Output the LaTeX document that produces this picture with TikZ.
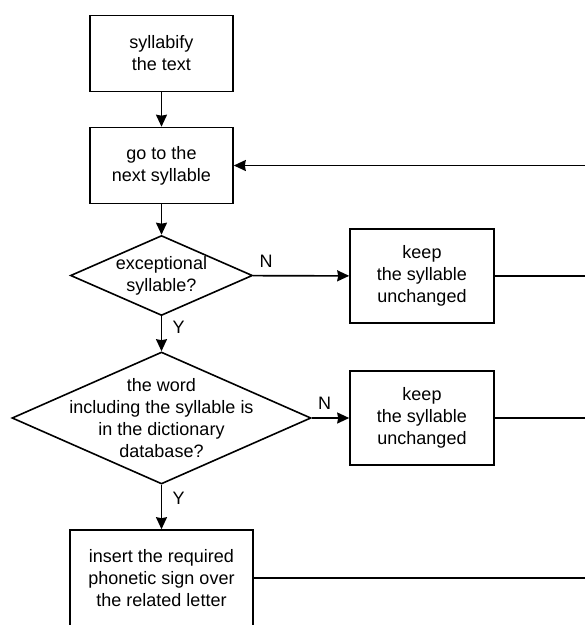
\documentclass[tikz,border=0pt]{standalone}
\usepackage{fontspec}
\setmainfont{Liberation Sans}
\usetikzlibrary{positioning, shapes.geometric, arrows.meta}

\begin{document}
\begin{tikzpicture}[
    x=1pt, y=-1pt,
    font=\fontsize{18}{22}\selectfont,
    % Style for the rectangular steps
    box/.style = {draw, line width=1.6pt, minimum width=143pt, minimum height=76pt, align=center, inner sep=0pt},
    % Style for the questions (text is put in as a centre label)
    decision/.style = {draw, diamond, line width=1.6pt, inner sep=0pt},
    % Style for the arrows and the plain lines
    arrow/.style = {-{Stealth[length=12pt, width=11pt, inset=1pt]}, line width=1.6pt},
    link/.style = {line width=1.6pt},
    yn/.style = {inner sep=0pt}
]
    \clip (0,0) rectangle (585,625);

    % --- MAIN COLUMN ---
    \node[box] (split) at (161.5,53.5) {syllabify\\the text};
    \node[box] (next) at (161.5,165.5) {go to the\\next syllable};
    \node[decision, minimum width=182pt, minimum height=80pt,
          label={[align=center]center:exceptional\\syllable?}] (exc) at (161.5,275.5) {};
    \node[decision, minimum width=299pt, minimum height=132pt,
          label={[align=center]center:the word\\including the syllable is\\in the dictionary\\database?}] (dict) at (161.5,418) {};
    \node[box, minimum width=183pt, minimum height=96pt] (insert) at (161.5,578) {insert the required\\phonetic sign over\\the related letter};

    % --- RIGHT COLUMN ---
    \node[box, minimum width=144pt, minimum height=94pt] (keepA) at (422,276) {keep\\the syllable\\unchanged};
    \node[box, minimum width=144pt, minimum height=94pt] (keepB) at (422,418) {keep\\the syllable\\unchanged};

    % --- LOOP BACK (runs off the right edge) ---
    \coordinate (back) at (585,165.5);
    \coordinate (outA) at (585,276);
    \coordinate (outB) at (585,418);
    \coordinate (outC) at (585,578);

    \draw[arrow] (split) -- (next);
    \draw[arrow] (next) -- (exc);
    \draw[arrow] (exc) -- (keepA);
    \draw[arrow] (exc) -- (dict);
    \draw[arrow] (dict) -- (keepB);
    \draw[arrow] (dict) -- (insert);
    \draw[arrow] (back) -- (next);
    \draw[link] (keepA) -- (outA);
    \draw[link] (keepB) -- (outB);
    \draw[link] (insert.east |- outC) -- (outC);

    % --- Y / N LABELS ---
    \node[yn, above right=8pt and 6pt of exc.east] (nA) {N};
    \node[yn, below right=5pt and 11pt of exc.south] (yA) {Y};
    \node[yn, above right=8pt and 6pt of dict.east] (nB) {N};
    \node[yn, below right=7pt and 11pt of dict.south] (yB) {Y};

\end{tikzpicture}
\end{document}
